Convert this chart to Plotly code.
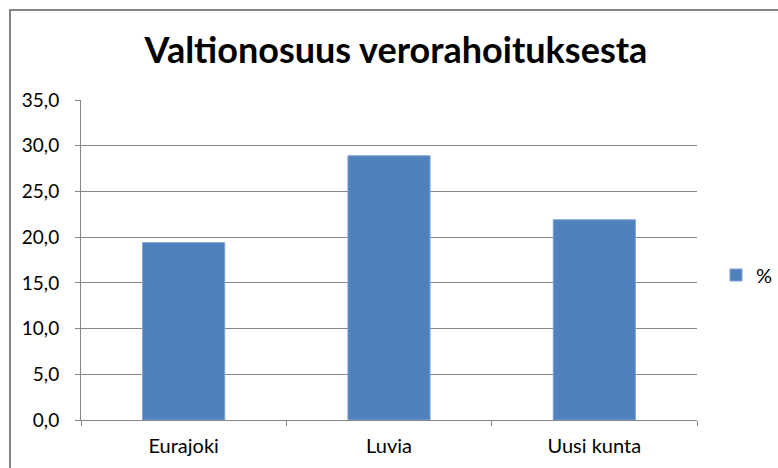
import plotly.graph_objects as go

categories = ["Eurajoki", "Luvia", "Uusi kunta"]
values = [19.4, 28.9, 21.9]
series_name = "%"
title_text = "Valtionosuus verorahoituksesta"

W, H = 778, 468
L, R, T, B = 81, 81, 100, 48
pw, ph = W - L - R, H - T - B

def px_x(p):
    return (p - L) / pw

def px_y(p):
    return (H - B - p) / ph

grid = "#878787"
font_family = "Lato, 'Open Sans', sans-serif"

fig = go.Figure()
fig.add_trace(go.Bar(
    x=categories, y=values, name=series_name,
    marker=dict(color="#4F81BD", line=dict(color="#7FA3D0", width=1)),
    width=0.4,
    showlegend=True,
))

fig.update_layout(
    template="none",
    width=W, height=H,
    margin=dict(l=L, r=R, t=T, b=B, pad=0, autoexpand=False),
    paper_bgcolor="white", plot_bgcolor="white",
    separators=", ",
    font=dict(family=font_family, size=20, color="#000000"),
    title=dict(text=title_text, x=396 / W, xanchor="center", xref="container",
               y=1 - 50 / H, yanchor="middle",
               font=dict(family=font_family, size=36, color="#000000", weight="bold")),
    xaxis=dict(showgrid=False, showline=True, linecolor=grid, linewidth=1,
               ticks="outside", ticklen=5, tickcolor=grid, tickson="boundaries",
               tickfont=dict(size=20), fixedrange=True, mirror=False,
               automargin=False, ticklabelstandoff=8),
    yaxis=dict(range=[0, 35], dtick=5, tick0=0, tickformat=".1f",
               showgrid=True, gridcolor=grid, gridwidth=1,
               showline=True, linecolor=grid, linewidth=1,
               ticks="outside", ticklen=5, tickcolor=grid,
               tickfont=dict(size=19), zeroline=False, fixedrange=True,
               automargin=False, ticklabelstandoff=12),
    legend=dict(x=px_x(716), y=px_y(275), xanchor="left", yanchor="middle",
                font=dict(size=20), bgcolor="rgba(0,0,0,0)",
                itemwidth=30, tracegroupgap=0),
    bargap=0.6,
    shapes=[dict(type="path", xref="paper", yref="paper",
                 path=f"M {px_x(10)} {px_y(H + 10)} L {px_x(10)} {px_y(10)} L {px_x(W + 10)} {px_y(10)}",
                 line=dict(color="#868686", width=2), layer="above")],
)

fig.write_html("out.html",
               config={"displayModeBar": False},
               post_script="document.body.style.margin='0';document.body.style.overflow='hidden';")
